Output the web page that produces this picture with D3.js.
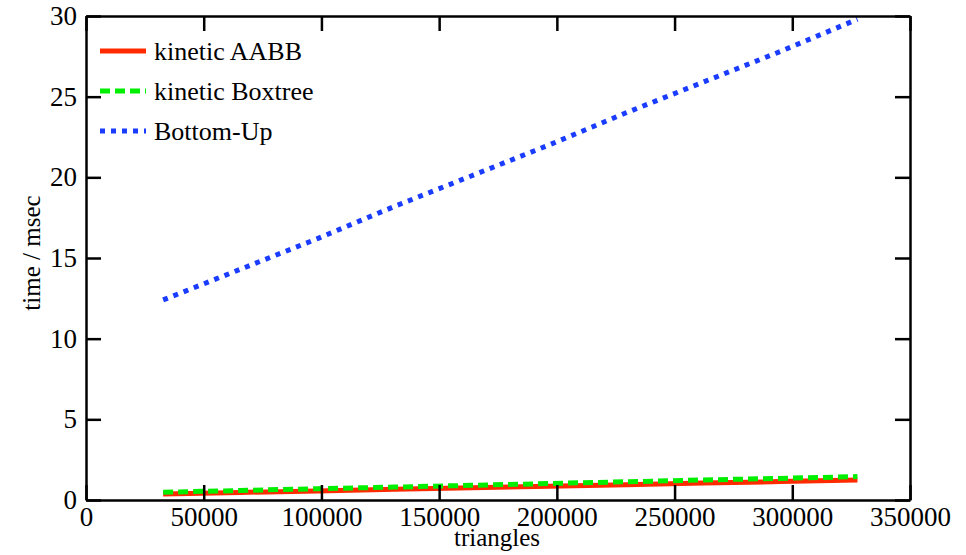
<!DOCTYPE html>
<html>
<head>
    <title>time vs triangles</title>
    <script src="https://d3js.org/d3.v7.min.js"></script>
    <style>
        body { margin: 0; background: #fff; }
        svg text { font-family: "Liberation Serif", "Times New Roman", "DejaVu Serif", serif !important; fill: #000; }
    </style>
</head>
<body>
<script>
var w = 966, h = 555;

// data
var triangles = [32768, 65536, 98304, 131072, 163840, 196608, 229376, 262144, 294912, 327680];
var aabb      = [0.37, 0.47, 0.56, 0.66, 0.76, 0.85, 0.95, 1.05, 1.14, 1.24];
var boxtree   = [0.48, 0.59, 0.70, 0.80, 0.91, 1.02, 1.13, 1.24, 1.34, 1.45];
var bottomUp  = [12.4, 14.3, 16.2, 18.2, 20.1, 22.0, 24.0, 25.9, 27.8, 29.8];
var xTicks = [0, 50000, 100000, 150000, 200000, 250000, 300000, 350000];
var yTicks = [0, 5, 10, 15, 20, 25, 30];
var seriesNames = ["kinetic AABB", "kinetic Boxtree", "Bottom-Up"];

var margin = {left: 86, right: 56, top: 16, bottom: 55};

var x = d3.scaleLinear().domain([0, 350000]).range([margin.left, w - margin.right]);
var y = d3.scaleLinear().domain([0, 30]).range([h - margin.bottom, margin.top]);

var svg = d3.select("body").append("svg")
    .attr("width", w)
    .attr("height", h);

var series = [
    {name: seriesNames[0], values: aabb, color: "#ff2a00", dash: null},
    {name: seriesNames[1], values: boxtree, color: "#00ee00", dash: "10,5"},
    {name: seriesNames[2], values: bottomUp, color: "#1a3cff", dash: "5,6"}
];

var line = d3.line()
    .x(function(d) { return x(d[0]); })
    .y(function(d) { return y(d[1]); });

// lines
svg.selectAll("path.series")
    .data(series)
    .enter()
    .append("path")
    .attr("class", "series")
    .attr("fill", "none")
    .attr("stroke", function(d) { return d.color; })
    .attr("stroke-width", 5)
    .attr("stroke-dasharray", function(d) { return d.dash; })
    .attr("d", function(d) {
        return line(triangles.map(function(t, i) { return [t, d.values[i]]; }));
    });

// axes: ticks inward on all four sides
var tickLen = 15;
var fmt = d3.format("d");

svg.append("g")
    .attr("transform", "translate(0," + y(0) + ")")
    .call(d3.axisBottom(x).tickValues(xTicks).tickFormat(fmt).tickSizeInner(-tickLen).tickSizeOuter(0).tickPadding(7));
svg.append("g")
    .attr("transform", "translate(0," + y(30) + ")")
    .call(d3.axisTop(x).tickValues(xTicks).tickFormat("").tickSizeInner(-tickLen).tickSizeOuter(0));
svg.append("g")
    .attr("transform", "translate(" + x(0) + ",0)")
    .call(d3.axisLeft(y).tickValues(yTicks).tickFormat(fmt).tickSizeInner(-tickLen).tickSizeOuter(0).tickPadding(9));
svg.append("g")
    .attr("transform", "translate(" + x(350000) + ",0)")
    .call(d3.axisRight(y).tickValues(yTicks).tickFormat("").tickSizeInner(-tickLen).tickSizeOuter(0));

svg.selectAll("g").attr("font-family", null);
svg.selectAll(".domain, .tick line")
    .attr("stroke", "#000")
    .attr("stroke-width", 2.5);
svg.selectAll(".tick text")
    .attr("fill", "#000")
    .style("font-size", "27px");

// axis titles
svg.append("text")
    .attr("x", 497)
    .attr("y", 546)
    .attr("text-anchor", "middle")
    .style("font-size", "25px")
    .text("triangles");

svg.append("text")
    .attr("transform", "translate(40,253) rotate(-90)")
    .attr("text-anchor", "middle")
    .style("font-size", "25px")
    .text("time / msec");

// legend
var legend = svg.selectAll("g.legend")
    .data(series)
    .enter()
    .append("g")
    .attr("class", "legend")
    .attr("transform", function(d, i) { return "translate(100," + (51 + i * 40) + ")"; });

legend.append("line")
    .attr("x1", 0)
    .attr("x2", 46)
    .attr("stroke", function(d) { return d.color; })
    .attr("stroke-width", 5)
    .attr("stroke-dasharray", function(d) { return d.dash; });

legend.append("text")
    .attr("x", 54)
    .attr("y", 9)
    .style("font-size", "26px")
    .text(function(d) { return d.name; });
</script>
</body>
</html>
